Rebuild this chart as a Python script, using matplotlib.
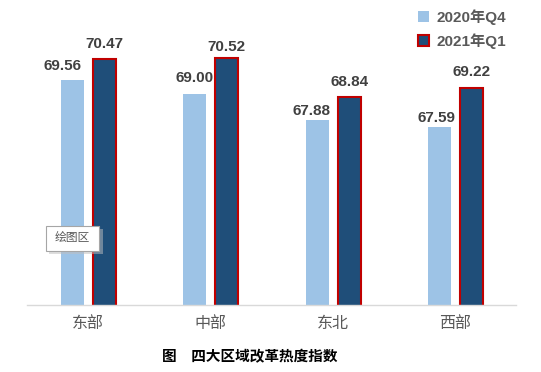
import numpy as np
import matplotlib.pyplot as plt
from matplotlib.patches import FancyBboxPatch

plt.rcParams['font.family'] = ['Liberation Sans', 'Noto Sans CJK SC']

# data
regions = ['东部', '中部', '东北', '西部']
q4_2020 = [69.56, 69.00, 67.88, 67.59]
q1_2021 = [70.47, 70.52, 68.84, 69.22]
series_names = ['2020年Q4', '2021年Q1']
caption = '图　四大区域改革热度指数'

# label nudges (pixels: dx, gap above bar top)
q4_nudge = [(-10, 14), (0, 16), (-6, 9), (-3, 9)]
q1_nudge = [(0, 15), (0, 11), (0, 15), (0, 16)]

W, H = 541, 372
fig = plt.figure(figsize=(W/100, H/100), dpi=100)
ax = fig.add_axes([27/W, 1-305/H, (516-27)/W, (305-23)/H])

x = np.arange(len(regions))
bw = 0.188
b1 = ax.bar(x-0.127, q4_2020, bw, color='#9DC3E6', label=series_names[0])
b2 = ax.bar(x+0.135, q1_2021, bw, color='#1F4E79', edgecolor='#C00000',
            linewidth=1.5, label=series_names[1])

for bars, vals, nudge in ((b1, q4_2020, q4_nudge), (b2, q1_2021, q1_nudge)):
    for r, v, (dx, dy) in zip(bars, vals, nudge):
        ax.annotate(f'{v:.2f}', (r.get_x()+r.get_width()/2, v),
                    xytext=(dx*0.72, dy*0.72), textcoords='offset points',
                    ha='center', va='center', fontsize=11, fontweight='bold',
                    color='#404040')

ax.set_ylim(60, 72)
ax.set_xlim(-0.5, len(regions)-0.5)
ax.set_yticks([])
ax.set_xticks(x)
ax.set_xticklabels(regions, fontsize=11.5, color='#595959',
                   family=['Noto Sans CJK SC'])
ax.tick_params(axis='x', length=0, pad=7)
for s in ['top', 'right', 'left']:
    ax.spines[s].set_visible(False)
ax.spines['bottom'].set_color('#D9D9D9')
ax.spines['bottom'].set_linewidth(1)

leg = ax.legend(loc='upper left', bbox_to_anchor=(418/W, 1-9/H),
                bbox_transform=fig.transFigure, frameon=False,
                prop={'weight': 'bold', 'size': 11}, labelcolor='#595959',
                handlelength=0.75, handleheight=0.75, handletextpad=0.45,
                labelspacing=0.55, borderaxespad=0, borderpad=0)

# tooltip box
shadow = FancyBboxPatch((49/W, 1-254/H), 54/W, 25/H, boxstyle='square,pad=0',
                        transform=fig.transFigure, facecolor='#BFBFBF',
                        edgecolor='none', alpha=0.5)
box = FancyBboxPatch((46/W, 1-251/H), 53/W, 25/H, boxstyle='square,pad=0',
                     transform=fig.transFigure, facecolor='white',
                     edgecolor='#A6A6A6', linewidth=0.8)
fig.patches.extend([shadow, box])
fig.text(72/W, 1-238/H, '绘图区', ha='center', va='center', fontsize=8.5,
         color='#595959', family=['Noto Sans CJK SC'])

fig.text(250/W, 1-356/H, caption, ha='center', va='center', fontsize=10.5,
         fontweight='bold', color='black', family=['Noto Sans CJK SC'])

fig.savefig('out.png', dpi=100)
